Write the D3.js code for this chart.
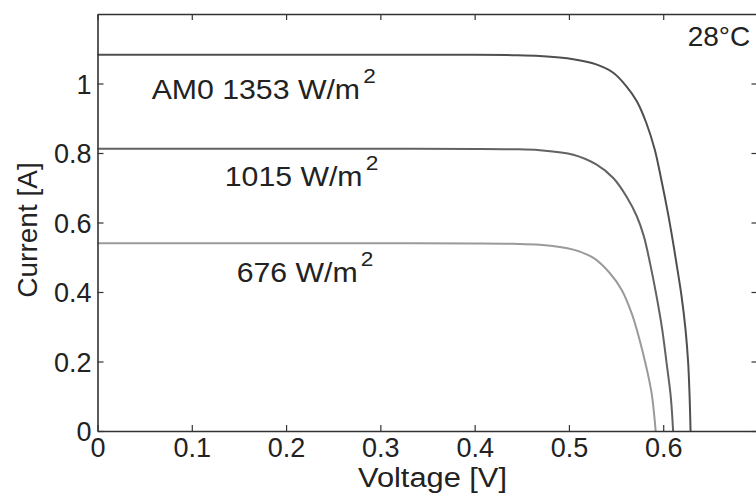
<!DOCTYPE html>
<html>
<head>
<meta charset="utf-8">
<script src="https://cdn.jsdelivr.net/npm/d3@7"></script>
<style>
  html, body { margin: 0; padding: 0; background: #fff; overflow: hidden; }
  svg { display: block; }
  text { font-family: "Liberation Sans", Arial, Helvetica, sans-serif; fill: #222; }
</style>
</head>
<body>
<svg id="chart" width="756" height="493"></svg>
<script>
// ---- data ----
const xTicks = [0, 0.1, 0.2, 0.3, 0.4, 0.5, 0.6, 0.7];
const yTicks = [0, 0.2, 0.4, 0.6, 0.8, 1];
const xTickLabels = ["0", "0.1", "0.2", "0.3", "0.4", "0.5", "0.6", ""];
const yTickLabels = ["0", "0.2", "0.4", "0.6", "0.8", "1"];

const am0Voltage = [0, 0.1, 0.2, 0.3, 0.4, 0.44, 0.469, 0.5046, 0.529, 0.547, 0.561, 0.572, 0.582, 0.591, 0.598, 0.605, 0.610, 0.614, 0.6195, 0.6237, 0.6265, 0.628, 0.629];
const am0Current = [1.083, 1.083, 1.083, 1.083, 1.0828, 1.0815, 1.079, 1.070, 1.055, 1.031, 0.992, 0.949, 0.887, 0.810, 0.723, 0.627, 0.550, 0.483, 0.387, 0.291, 0.195, 0.099, 0];

const w1015Voltage = [0, 0.1, 0.2, 0.3, 0.4, 0.44, 0.469, 0.5046, 0.529, 0.547, 0.561, 0.572, 0.5795, 0.586, 0.593, 0.599, 0.6036, 0.608, 0.6105];
const w1015Current = [0.812, 0.812, 0.812, 0.812, 0.8118, 0.8108, 0.808, 0.795, 0.767, 0.728, 0.675, 0.618, 0.560, 0.483, 0.387, 0.291, 0.195, 0.099, 0];

const w676Voltage = [0, 0.1, 0.2, 0.3, 0.4, 0.44, 0.469, 0.5046, 0.526, 0.5435, 0.556, 0.5665, 0.575, 0.582, 0.5877, 0.592];
const w676Current = [0.540, 0.540, 0.540, 0.540, 0.5398, 0.5388, 0.536, 0.522, 0.498, 0.454, 0.406, 0.339, 0.262, 0.185, 0.109, 0];

const seriesNames = ["AM0 1353 W/m", "1015 W/m", "676 W/m"];
const labelVoltage = [0.0575, 0.135, 0.1476];
const labelCurrent = [0.956, 0.704, 0.430];
const tempLabel = "28°C";

// ---- layout ----
const svg = d3.select("#chart");
const mLeft = 97.5, mRight = 757.5, mTop = 14, mBottom = 431;
const x = d3.scaleLinear().domain([0, 0.7]).range([mLeft, mRight]);
const y = d3.scaleLinear().domain([0, 1.2]).range([mBottom, mTop]);
const stretch = 1.08;

const series = [
  { v: am0Voltage, i: am0Current, color: "#4f4f4f" },
  { v: w1015Voltage, i: w1015Current, color: "#626262" },
  { v: w676Voltage, i: w676Current, color: "#9a9a9a" }
];

const line = d3.line().x(d => x(d[0])).y(d => y(d[1])).curve(d3.curveCatmullRom.alpha(0.5));

series.forEach(s => {
  svg.append("path")
    .datum(s.v.map((v, k) => [v, s.i[k]]))
    .attr("d", line)
    .attr("fill", "none")
    .attr("stroke", s.color)
    .attr("stroke-width", 2);
});

// ---- axes (inward ticks on all four sides) ----
const axisColor = "#333";
const fs = 27;

const bottomAxis = d3.axisBottom(x).tickValues(xTicks).tickSizeInner(-6).tickSizeOuter(0)
  .tickFormat((d, k) => xTickLabels[k]).tickPadding(8);
const gB = svg.append("g").attr("transform", `translate(0,${mBottom})`).call(bottomAxis);

const topAxis = d3.axisTop(x).tickValues(xTicks).tickSizeInner(-6).tickSizeOuter(0).tickFormat("");
const gT = svg.append("g").attr("transform", `translate(0,${mTop})`).call(topAxis);

const leftAxis = d3.axisLeft(y).tickValues(yTicks).tickSizeInner(-6).tickSizeOuter(0)
  .tickFormat((d, k) => yTickLabels[k]).tickPadding(6);
const gL = svg.append("g").attr("transform", `translate(${mLeft},0)`).call(leftAxis);

const rightAxis = d3.axisRight(y).tickValues(yTicks).tickSizeInner(-6).tickSizeOuter(0).tickFormat("");
const gR = svg.append("g").attr("transform", `translate(${mRight},0)`).call(rightAxis);

[gB, gT, gL, gR].forEach(g => {
  g.select(".domain").attr("stroke", axisColor).attr("stroke-width", 1.6);
  g.selectAll(".tick line").attr("stroke", axisColor).attr("stroke-width", 1.2);
  g.selectAll(".tick text").attr("font-size", fs)
    .attr("font-family", '"Liberation Sans", Arial, sans-serif').attr("fill", "#222");
});
gL.selectAll(".tick text").attr("dy", "0.36em");
gB.selectAll(".tick text").attr("dy", "0.66em");

// ---- axis titles ----
svg.append("text")
  .attr("transform", `translate(${(mLeft + mRight) / 2 + 5},487) scale(${stretch + 0.02},1)`)
  .attr("text-anchor", "middle").attr("font-size", 28)
  .text("Voltage [V]");

svg.append("text")
  .attr("transform", `translate(37,230) rotate(-90)`)
  .attr("text-anchor", "middle").attr("font-size", 28)
  .text("Current [A]");

// ---- curve labels with superscript ----
seriesNames.forEach((name, k) => {
  const t = svg.append("text")
    .attr("transform", `translate(${x(labelVoltage[k])},${y(labelCurrent[k])}) scale(${stretch},1)`)
    .attr("font-size", 28);
  t.append("tspan").text(name);
  t.append("tspan").attr("dx", 3).attr("dy", -16).attr("font-size", 21).text("2");
});

svg.append("text")
  .attr("x", x(0.626)).attr("y", y(1.107))
  .attr("font-size", 28)
  .text(tempLabel);
</script>
</body>
</html>
